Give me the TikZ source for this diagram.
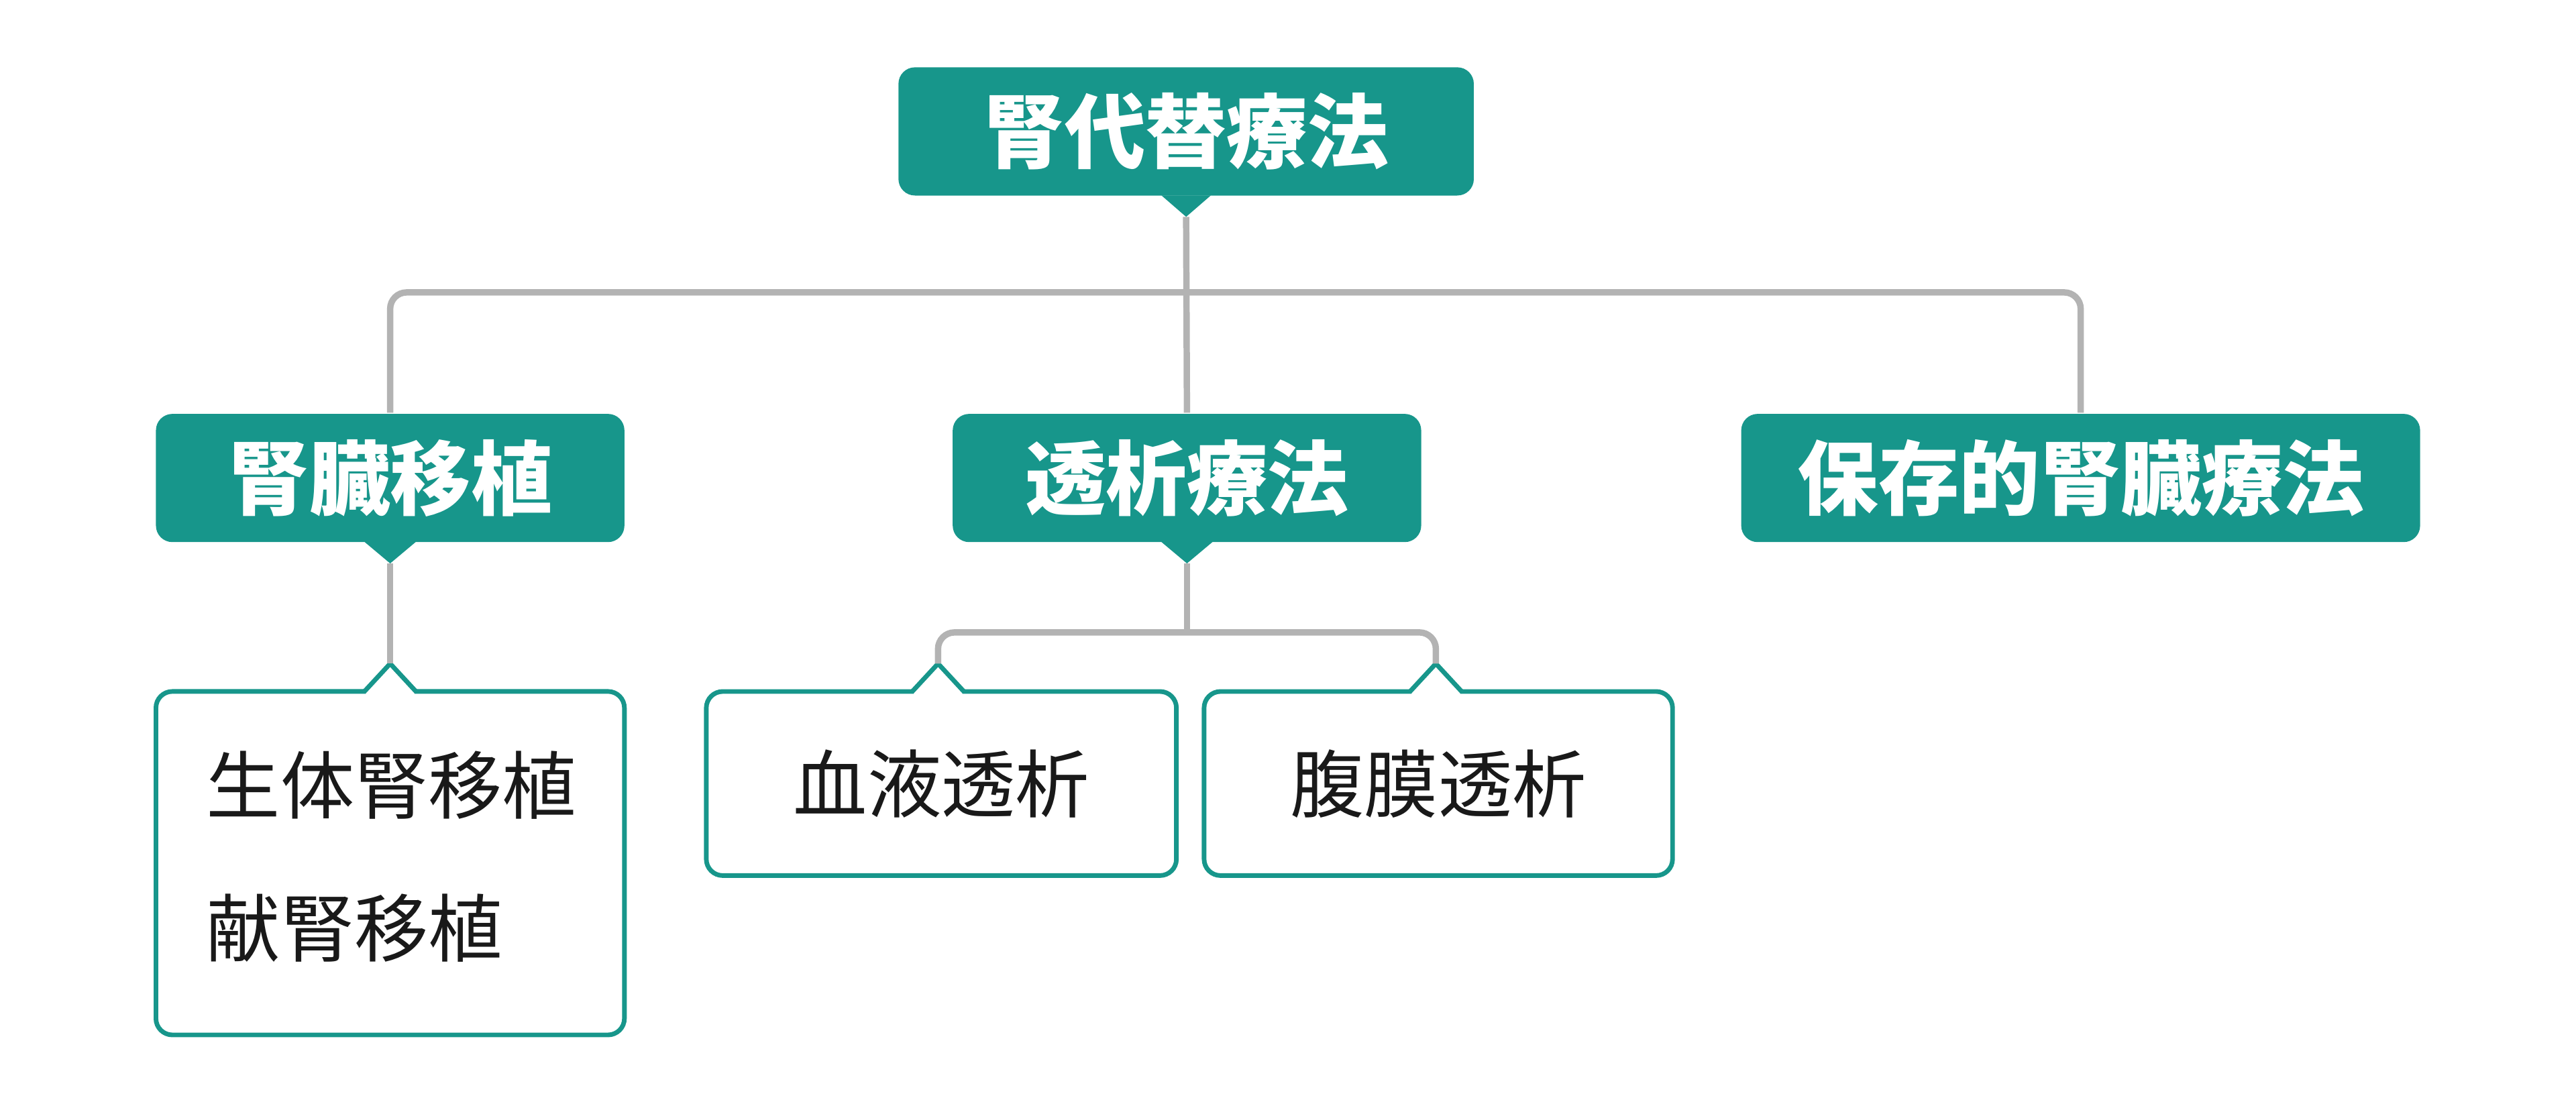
\documentclass[tikz,border=0pt]{standalone}
\usepackage{fontspec}
\newfontfamily\cjk{Noto Sans CJK JP}
\definecolor{tealc}{HTML}{17968B}
\definecolor{grayc}{HTML}{B3B3B3}
\begin{document}
\begin{tikzpicture}[x=0.01cm,y=-0.01cm,
  head/.style={fill=tealc,rounded corners=0.1cm,minimum height=0.78cm,text=white,font=\cjk\bfseries\fontsize{14pt}{16pt}\selectfont,inner sep=0},
  kid/.style={draw=tealc,line width=0.8pt,rounded corners=0.1cm,fill=white,inner sep=0},
  kidtxt/.style={font=\cjk\fontsize{12.8pt}{15pt}\selectfont,text=black!90,inner sep=0},
  conn/.style={draw=grayc,line width=1.1pt,rounded corners=0.1cm},
  notch/.style={draw=tealc,line width=0.8pt,fill=white,line join=miter}]
\path[use as bounding box] (0,0) rectangle (1568,672);
% header nodes
\node[head,minimum width=3.5cm] (root) at (722,80) {腎代替療法};
\node[head,minimum width=2.85cm] (ren) at (237.5,291) {腎臓移植};
\node[head,minimum width=2.85cm] (tou) at (722.5,291) {透析療法};
\node[head,minimum width=4.13cm] (hoz) at (1266.5,291) {保存的腎臓療法};
\fill[tealc] (707,119) -- (722,132) -- (737,119) -- cycle;
\fill[tealc] (222,330) -- (237.5,343) -- (253,330) -- cycle;
\fill[tealc] (707,330) -- (722.5,343) -- (738,330) -- cycle;
\coordinate (rt) at (722,132);
\coordinate (rent) at (237.5,343);
\coordinate (tout) at (722.5,343);
\coordinate (hub) at (722,178);
\coordinate (hub2) at (722.5,385);
% child boxes
\node[kid,minimum width=2.85cm,minimum height=2.09cm] (k1) at (237.5,525.5) {};
\node[kid,minimum width=2.86cm,minimum height=1.12cm] (k2) at (573,477) {};
\node[kid,minimum width=2.85cm,minimum height=1.12cm] (k3) at (875.5,477) {};
\coordinate (k1t) at (237.5,404);
\coordinate (k2t) at (571,404);
\coordinate (k3t) at (874,404);
\foreach \c in {237.5,571,874}{
  \draw[white,line width=1.6pt] (\c-15,421) -- (\c+15,421);
  \draw[notch] (\c-16,421.3) -- (\c,404) -- (\c+16,421.3);
}
\node[kidtxt,anchor=west] (t1) at (125,478) {生体腎移植};
\node[kidtxt,anchor=west] (t2) at (125,565) {献腎移植};
\node[kidtxt] (t3) at (k2) {血液透析};
\node[kidtxt] (t4) at (k3) {腹膜透析};
% connectors
\draw[conn] (ren.north) |- (hub) -| (hoz.north);
\draw[conn] (rt) -- (tou.north);
\draw[conn] (rent) -- (k1t);
\draw[conn] (tout) -- (hub2);
\draw[conn] (k2t) |- (hub2) -| (k3t);
\end{tikzpicture}
\end{document}
